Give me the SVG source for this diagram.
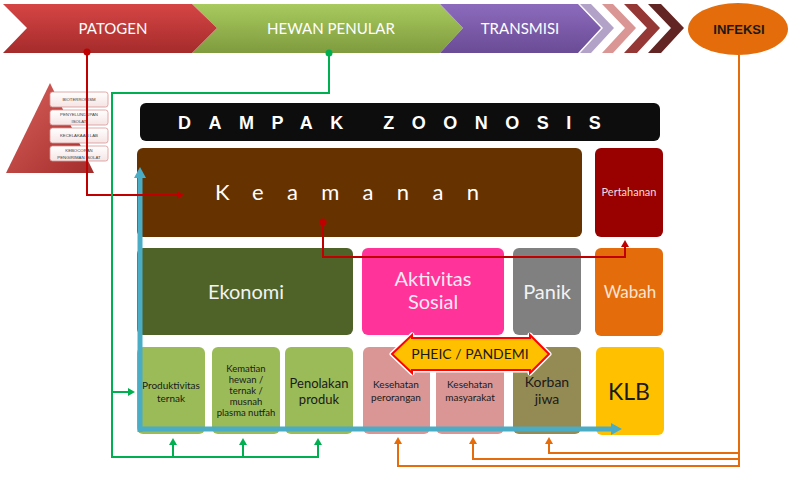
<svg xmlns="http://www.w3.org/2000/svg" width="794" height="478" viewBox="0 0 794 478">
<defs>
<linearGradient id="gRed" x1="0" y1="0" x2="0" y2="1"><stop offset="0" stop-color="#D64545"/><stop offset="1" stop-color="#A52B2B"/></linearGradient>
<linearGradient id="gGreen" x1="0" y1="0" x2="0" y2="1"><stop offset="0" stop-color="#A8CA5E"/><stop offset="1" stop-color="#7F9B3E"/></linearGradient>
<linearGradient id="gPurple" x1="0" y1="0" x2="0" y2="1"><stop offset="0" stop-color="#8C6BBD"/><stop offset="1" stop-color="#6A4B95"/></linearGradient>
<linearGradient id="gTri" x1="0" y1="0" x2="1" y2="1"><stop offset="0" stop-color="#D9605C"/><stop offset="1" stop-color="#A32D2B"/></linearGradient>
<linearGradient id="gBox" x1="0" y1="0" x2="0" y2="1"><stop offset="0" stop-color="#FFFFFF"/><stop offset="1" stop-color="#F6E4E4"/></linearGradient>
<marker id="mBlue" markerUnits="userSpaceOnUse" markerWidth="12" markerHeight="12" refX="1" refY="6" orient="auto"><path d="M0,0 L11,6 L0,12 z" fill="#4BACC6"/></marker>
<marker id="mRed" markerUnits="userSpaceOnUse" markerWidth="8" markerHeight="8" refX="1" refY="4" orient="auto"><path d="M0,0 L7,4 L0,8 z" fill="#C00000"/></marker>
<marker id="mGreen" markerUnits="userSpaceOnUse" markerWidth="8" markerHeight="8" refX="1" refY="4" orient="auto"><path d="M0,0 L7,4 L0,8 z" fill="#00B050"/></marker>
<marker id="mOrange" markerUnits="userSpaceOnUse" markerWidth="8" markerHeight="8" refX="1" refY="4" orient="auto"><path d="M0,0 L7,4 L0,8 z" fill="#E46C0A"/></marker>
</defs>
<style>
.t{font-family:Lato,"Open Sans","Liberation Sans",sans-serif;text-anchor:middle}
.w{fill:#FFFFFF}
.k{fill:#1A1A1A}
.sm{font-size:10px}
.xs{font-size:9.5px}
.tb{fill:url(#gBox);stroke:#D99694;stroke-width:0.8}
.tt{font-family:"Liberation Sans",Arial,sans-serif;font-size:4.3px;fill:#404040;text-anchor:middle}
.ln{fill:none;stroke-width:2}
.bl{fill:none;stroke:#4BACC6;stroke-width:5}
</style>
<rect width="794" height="478" fill="#FFFFFF"/>

<g id="banner">
<polygon points="192,4 440,4 463,28 440,53 192,53 217,28" fill="url(#gGreen)"/>
<polygon points="440,4 578,4 601,28 578,53 440,53 463,28" fill="url(#gPurple)"/>
<polygon points="3,4 192,4 217,28 192,53 3,53 27,28" fill="url(#gRed)"/>
<polygon points="580,4 591,4 614,28 591,53 580,53 603,28" fill="#B3A2C7"/>
<polygon points="602,4 613,4 636,28 613,53 602,53 625,28" fill="#D99694"/>
<polygon points="624,4 637,4 660,28 637,53 624,53 647,28" fill="#953735"/>
<polygon points="648,4 661,4 684,28 661,53 648,53 671,28" fill="#632523"/>
<text class="t w" x="113" y="34" font-size="15">PATOGEN</text>
<text class="t w" x="331" y="34" font-size="15">HEWAN PENULAR</text>
<text class="t w" x="520" y="34" font-size="15">TRANSMISI</text>
</g>

<g id="infeksi">
<ellipse cx="738" cy="29" rx="50" ry="26" fill="#E46C0A"/>
<text x="739" y="34" font-family="'Liberation Sans',Arial,sans-serif" font-weight="bold" font-size="13" fill="#1A1A1A" text-anchor="middle">INFEKSI</text>
</g>

<g id="patogen-risk">
<polygon points="50,83 94,173 6,173" fill="url(#gTri)"/>
<rect class="tb" x="50" y="92" width="58" height="15" rx="2.5"/>
<rect class="tb" x="50" y="110" width="58" height="15" rx="2.5"/>
<rect class="tb" x="50" y="128" width="58" height="15" rx="2.5"/>
<rect class="tb" x="50" y="146" width="58" height="15" rx="2.5"/>
<text class="tt" x="79" y="101">BIOTERRORISM</text>
<text class="tt" x="79" y="116">PENYELUNDUPAN</text>
<text class="tt" x="79" y="122.5">ISOLAT</text>
<text class="tt" x="79" y="137">KECELAKAAN LAB</text>
<text class="tt" x="79" y="152">KEBOCORAN</text>
<text class="tt" x="79" y="158.5">PENGIRIMAN ISOLAT</text>
</g>

<g id="dampak">
<rect x="140" y="103" width="520" height="38" rx="6" fill="#0D0D0D"/>
<text x="178" y="129" font-family="'Liberation Sans',Arial,sans-serif" font-weight="bold" font-size="18" letter-spacing="17.5" fill="#FFFFFF">DAMPAK ZOONOSIS</text>
</g>

<g id="keamanan">
<rect x="137" y="148" width="445" height="89" rx="6" fill="#663300"/>
<text x="215" y="200" font-family="Lato,'Open Sans',sans-serif" font-size="22" letter-spacing="23.3" fill="#FFFFFF">Keamanan</text>
</g>
<g id="pertahanan">
<rect x="595" y="148" width="68" height="89" rx="6" fill="#990000"/>
<text class="t" x="629" y="196" font-size="11" fill="#F2DCDB">Pertahanan</text>
</g>
<g id="ekonomi">
<rect x="137" y="248" width="216" height="87" rx="6" fill="#4F6228"/>
<text class="t" x="246" y="299" font-size="20" fill="#F2F2F2">Ekonomi</text>
</g>
<g id="aktivitas-sosial">
<rect x="362" y="248" width="142" height="87" rx="6" fill="#FF3399"/>
<text class="t" x="433" y="286" font-size="20" fill="#FDE9F2">Aktivitas</text>
<text class="t" x="433" y="309" font-size="20" fill="#FDE9F2">Sosial</text>
</g>
<g id="panik">
<rect x="513" y="248" width="68" height="87" rx="6" fill="#808080"/>
<text class="t" x="547" y="299" font-size="20" fill="#F2F2F2">Panik</text>
</g>
<g id="wabah">
<rect x="595" y="248" width="68" height="88" rx="6" fill="#E46C0A"/>
<text class="t" x="630" y="298" font-size="17" fill="#FCE4D6">Wabah</text>
</g>

<g id="produktivitas">
<rect x="137" y="347" width="68" height="87" rx="6" fill="#9BBB59"/>
<text class="t k sm" x="171" y="389">Produktivitas</text>
<text class="t k sm" x="171" y="402">ternak</text>
</g>
<g id="kematian">
<rect x="212" y="347" width="68" height="87" rx="6" fill="#9BBB59"/>
<text class="t k xs" x="246" y="372">Kematian</text>
<text class="t k xs" x="246" y="383">hewan /</text>
<text class="t k xs" x="246" y="394">ternak /</text>
<text class="t k xs" x="246" y="405">musnah</text>
<text class="t k xs" x="246" y="416">plasma nutfah</text>
</g>
<g id="penolakan">
<rect x="285" y="347" width="68" height="87" rx="6" fill="#9BBB59"/>
<text class="t k" x="319" y="388" font-size="13">Penolakan</text>
<text class="t k" x="319" y="404" font-size="13">produk</text>
</g>
<g id="kesehatan-perorangan">
<rect x="363" y="347" width="67" height="87" rx="6" fill="#D99694"/>
<text class="t k sm" x="396" y="388">Kesehatan</text>
<text class="t k sm" x="396" y="401">perorangan</text>
</g>
<g id="kesehatan-masyarakat">
<rect x="436" y="347" width="68" height="87" rx="6" fill="#D99694"/>
<text class="t k sm" x="470" y="388">Kesehatan</text>
<text class="t k sm" x="470" y="401">masyarakat</text>
</g>
<g id="korban-jiwa">
<rect x="513" y="347" width="68" height="87" rx="6" fill="#948A54"/>
<text class="t k" x="547" y="387" font-size="14">Korban</text>
<text class="t k" x="547" y="404" font-size="14">jiwa</text>
</g>
<g id="klb">
<rect x="596" y="347" width="68" height="88" rx="6" fill="#FFC000"/>
<text class="t k" x="629" y="400" font-size="23">KLB</text>
</g>

<g id="pheic">
<polygon points="392,354 412,335 412,338 530,338 530,335 549,354 530,373 530,370 412,370 412,373" fill="none" stroke="#FFFFFF" stroke-width="5" stroke-linejoin="round"/>
<polygon points="392,354 412,335 412,338 530,338 530,335 549,354 530,373 530,370 412,370 412,373" fill="#FFC000" stroke="#FF0000" stroke-width="2"/>
<text class="t k" x="470" y="359" font-size="14">PHEIC / PANDEMI</text>
</g>

<g id="connectors">
<path class="bl" d="M140,432 V177" marker-end="url(#mBlue)"/>
<path class="bl" d="M138,429 H612" marker-end="url(#mBlue)"/>
<path class="ln" d="M87,52 V195 H178" stroke="#C00000" marker-end="url(#mRed)"/>
<path class="ln" d="M323,222 V257 H625 V246" stroke="#C00000" marker-end="url(#mRed)"/>
<path class="ln" d="M329,53 V93 H112 V457 H318 V444" stroke="#00B050" marker-end="url(#mGreen)"/>
<path class="ln" d="M112,392 H129" stroke="#00B050" marker-end="url(#mGreen)"/>
<path class="ln" d="M173,457 V444" stroke="#00B050" marker-end="url(#mGreen)"/>
<path class="ln" d="M243,457 V444" stroke="#00B050" marker-end="url(#mGreen)"/>
<path class="ln" d="M739,55 V466 H398 V443" stroke="#E46C0A" marker-end="url(#mOrange)"/>
<path class="ln" d="M739,459 H473 V443" stroke="#E46C0A" marker-end="url(#mOrange)"/>
<path class="ln" d="M739,453 H549 V443" stroke="#E46C0A" marker-end="url(#mOrange)"/>
<circle cx="87" cy="52" r="3.5" fill="#C00000"/>
<circle cx="329" cy="53" r="3.5" fill="#00B050"/>
<circle cx="323" cy="222" r="3.5" fill="#C00000"/>
</g>
</svg>
